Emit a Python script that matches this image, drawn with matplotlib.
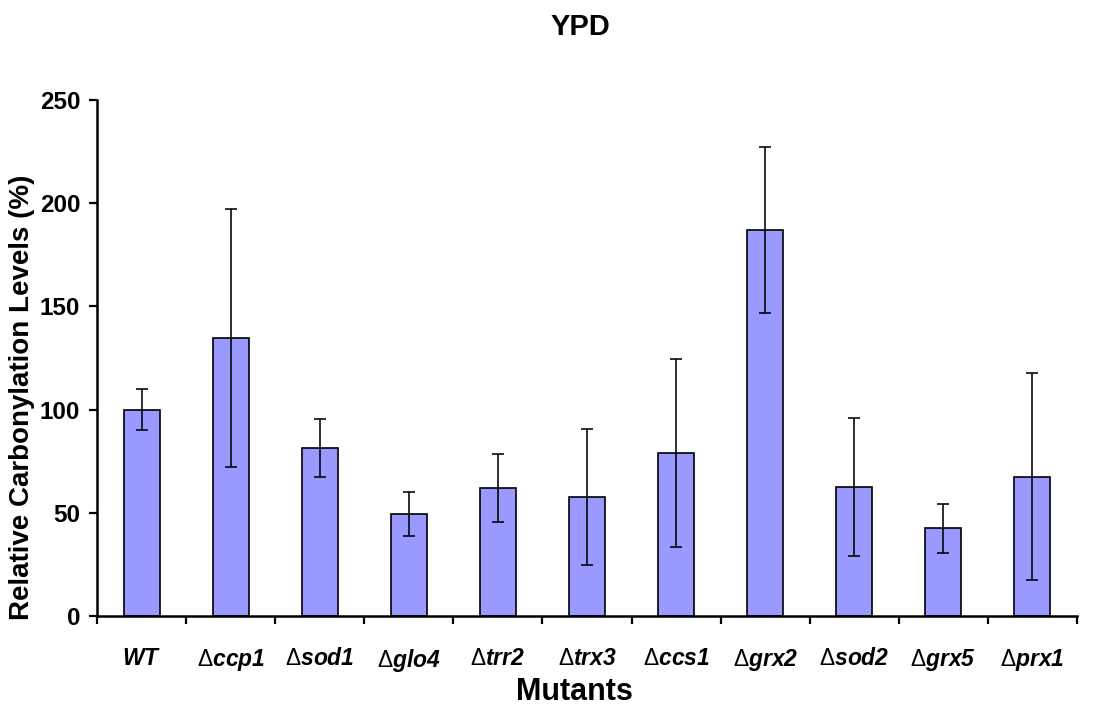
import matplotlib
matplotlib.use("Agg")
import matplotlib.pyplot as plt
import numpy as np

# Relative protein carbonylation per strain grown in YPD
strains = ["WT", "ccp1", "sod1", "glo4", "trr2", "trx3", "ccs1", "grx2", "sod2", "grx5", "prx1"]
levels = [100, 134.5, 81.5, 49.5, 62, 57.5, 79, 187, 62.5, 42.5, 67.5]
errors = [10, 62.5, 14, 10.5, 16.5, 33, 45.5, 40, 33.5, 12, 50]
y_ticks = [0, 50, 100, 150, 200, 250]

plt.rcParams["font.family"] = ["Liberation Sans", "DejaVu Sans"]
plt.rcParams["mathtext.fontset"] = "custom"
plt.rcParams["mathtext.rm"] = "Liberation Sans"
plt.rcParams["mathtext.bfit"] = "Liberation Sans:bold:italic"
plt.rcParams["mathtext.it"] = "Liberation Sans:italic"
plt.rcParams["mathtext.bf"] = "Liberation Sans:bold"

fig = plt.figure(figsize=(10.96, 7.11), dpi=100)
ax = fig.add_axes([97 / 1096, 95 / 711, (1077 - 97) / 1096, (616 - 100) / 711])

x = np.arange(len(strains))
ax.bar(x, levels, width=0.405, color="#9999FF", edgecolor="black", linewidth=1.2, zorder=2)
ax.errorbar(x, levels, yerr=errors, fmt="none", ecolor="black", elinewidth=1.15,
            capsize=4.5, capthick=1.15, zorder=3)

ax.set_xlim(-0.5, len(strains) - 0.5)
ax.set_ylim(0, 250)
ax.set_yticks(y_ticks)
ax.set_yticklabels([str(v) for v in y_ticks], fontsize=17.5, fontweight="bold")

# category boundaries carry the tick marks; names sit under each bar
ax.set_xticks(np.arange(-0.5, len(strains), 1.0))
ax.set_xticklabels([])
ax.set_xticks(x, minor=True)
labels = []
for s in strains:
    if s == "WT":
        labels.append(r"$\mathbfit{WT}$")
    else:
        labels.append(r"$\Delta\mathbfit{" + s + "}$")
ax.set_xticklabels(labels, minor=True, fontsize=16.5)
ax.tick_params(axis="x", which="minor", length=0, pad=22)
ax.tick_params(axis="x", which="major", direction="out", length=6, width=1.6)
ax.tick_params(axis="y", which="major", direction="out", length=6, width=1.6, pad=6)

for side in ("top", "right"):
    ax.spines[side].set_visible(False)
for side in ("left", "bottom"):
    ax.spines[side].set_linewidth(1.8)

ax.set_ylabel("Relative Carbonylation Levels (%)", fontsize=20, fontweight="bold",
              ha="center", va="center")
ax.yaxis.set_label_coords((22 - 97) / 980, (616 - 397) / 516)
ax.set_xlabel("Mutants", fontsize=22, fontweight="bold", ha="center", va="center")
ax.xaxis.set_label_coords((574 - 97) / 980, (616 - 692) / 516)
fig.text(580 / 1096, 1 - 27 / 711, "YPD", ha="center", va="center", fontsize=21, fontweight="bold")

fig.savefig("out.png", dpi=100)
